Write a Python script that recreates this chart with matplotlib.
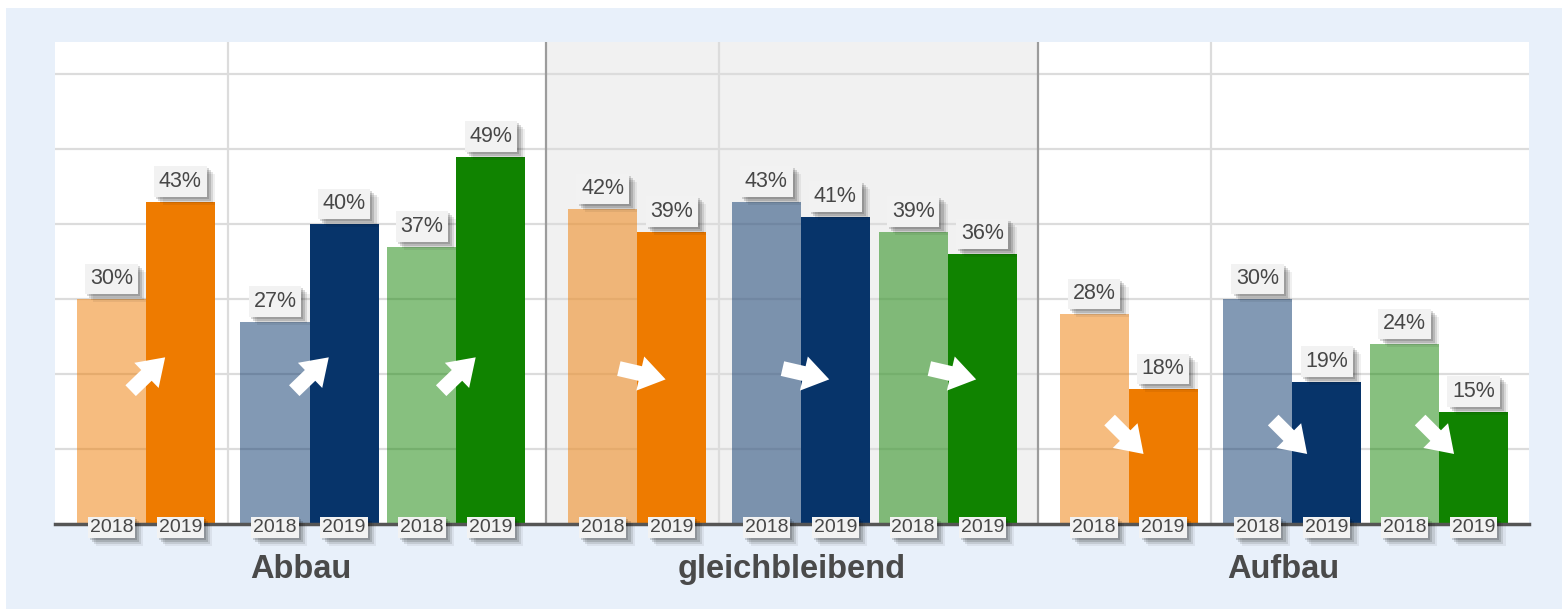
import numpy as np
import matplotlib.pyplot as plt
import matplotlib.patches as mpatches
import matplotlib.patheffects as pe
import matplotlib.transforms as mtransforms

plt.rcParams['font.family'] = ['Liberation Sans', 'DejaVu Sans']

# data
sections = ["Abbau", "gleichbleibend", "Aufbau"]
years = ["2018", "2019"]
orange_2018 = [30, 42, 28]
orange_2019 = [43, 39, 18]
blue_2018 = [27, 43, 30]
blue_2019 = [40, 41, 19]
green_2018 = [37, 39, 24]
green_2019 = [49, 36, 15]

# style / layout
ORANGE, BLUE, GREEN = "#EE7B00", "#07346A", "#108300"
series = [(orange_2018, orange_2019, ORANGE),
          (blue_2018, blue_2019, BLUE),
          (green_2018, green_2019, GREEN)]
pair_offsets = [0.185, 0.518, 0.817]   # pair centre inside a section (section width = 1)
bar_w = 0.1405
arrow_angle = [44, -13, -45]           # per section
arrow_level = [20, 20, 11.6]
arrow_dx_px = [2, 5, -2]
BG = "#E8F0FA"
TXT = "#474747"

W, H = 1562, 609
fig = plt.figure(figsize=(W / 100, H / 100), dpi=100, facecolor="white")
fig.patches.append(mpatches.Rectangle((6 / W, 0), 1, (H - 8) / H, transform=fig.transFigure,
                                      facecolor=BG, edgecolor="none", zorder=-10))
ax = fig.add_axes([55 / W, 85 / H, (1529 - 55) / W, (524 - 42) / H])
ax.set_facecolor("white")
for s in ax.spines.values():
    s.set_visible(False)
ax.set_xticks([])
ax.set_yticks([])

# middle section shading and grid
ax.axvspan(1, 2, color="#F1F1F1", zorder=0, lw=0)
for y in range(10, 70, 10):
    ax.axhline(y, color="#DCDCDC", lw=1.6, zorder=1)
for s in range(3):
    ax.axvline(s + 0.352, color="#DCDCDC", lw=1.6, zorder=1)
for s in (1, 2):
    ax.axvline(s, color="#9C9C9C", lw=1.6, zorder=1.5)


def shadow_fx():
    return [pe.SimplePatchShadow(offset=(1.5, -1.5), shadow_rgbFace="black", alpha=0.15),
            pe.SimplePatchShadow(offset=(3, -3), shadow_rgbFace="black", alpha=0.14),
            pe.SimplePatchShadow(offset=(4.5, -4.5), shadow_rgbFace="black", alpha=0.10),
            pe.SimplePatchShadow(offset=(6, -6), shadow_rgbFace="black", alpha=0.06),
            pe.Normal()]


def value_label(x, v):
    t = ax.annotate(f"{v}%", xy=(x, v), xytext=(0, 7), textcoords="offset points",
                    ha="center", va="bottom", fontsize=15.5, color=TXT, zorder=6,
                    bbox=dict(boxstyle="square,pad=0.22", fc="#F2F2F2", ec="none"),
                    annotation_clip=False)
    t.get_bbox_patch().set_path_effects(shadow_fx())


def year_label(x, yr):
    t = ax.annotate(yr, xy=(x, 0), xytext=(0, 3.5), textcoords="offset points",
                    ha="center", va="top", fontsize=14, color=TXT, zorder=7,
                    bbox=dict(boxstyle="square,pad=0.1", fc="#F2F2F2", ec="none"),
                    annotation_clip=False)
    t.get_bbox_patch().set_path_effects(shadow_fx())


def arrow(xc, yc, ang, dx_px):
    a = np.deg2rad(ang)
    L = 0.48
    ux, uy = np.cos(a), np.sin(a)
    trans = fig.dpi_scale_trans + mtransforms.ScaledTranslation(xc, yc, ax.transData)
    p = mpatches.FancyArrow(-L / 2 * ux + dx_px / 100, -L / 2 * uy, L * ux, L * uy,
                            width=0.15, head_width=0.35, head_length=0.26,
                            length_includes_head=True, transform=trans,
                            facecolor="white", edgecolor="none", zorder=4)
    ax.add_patch(p)


for k, (v18, v19, c) in enumerate(series):
    centers = np.arange(len(sections)) + pair_offsets[k]
    ax.bar(centers - bar_w / 2, v18, bar_w, color=c, alpha=0.5, lw=0, zorder=2)
    ax.bar(centers + bar_w / 2, v19, bar_w, color=c, lw=0, zorder=2)
    for i, xc in enumerate(centers):
        value_label(xc - bar_w / 2, v18[i])
        value_label(xc + bar_w / 2, v19[i])
        year_label(xc - bar_w / 2, years[0])
        year_label(xc + bar_w / 2, years[1])
        arrow(xc, arrow_level[i], arrow_angle[i], arrow_dx_px[i])

ax.axhline(0, color="#555555", lw=2.5, zorder=5, clip_on=False)

for i, name in enumerate(sections):
    ax.annotate(name, xy=(i + 0.5, 0), xytext=(0, -33), textcoords="offset points",
                ha="center", va="center", fontsize=23.5, fontweight="bold", color="#4A4A4A",
                annotation_clip=False)

ax.set_xlim(0, 3)
ax.set_ylim(0, 482 / 7.5)

fig.savefig("out.png", dpi=100, facecolor=fig.get_facecolor())
